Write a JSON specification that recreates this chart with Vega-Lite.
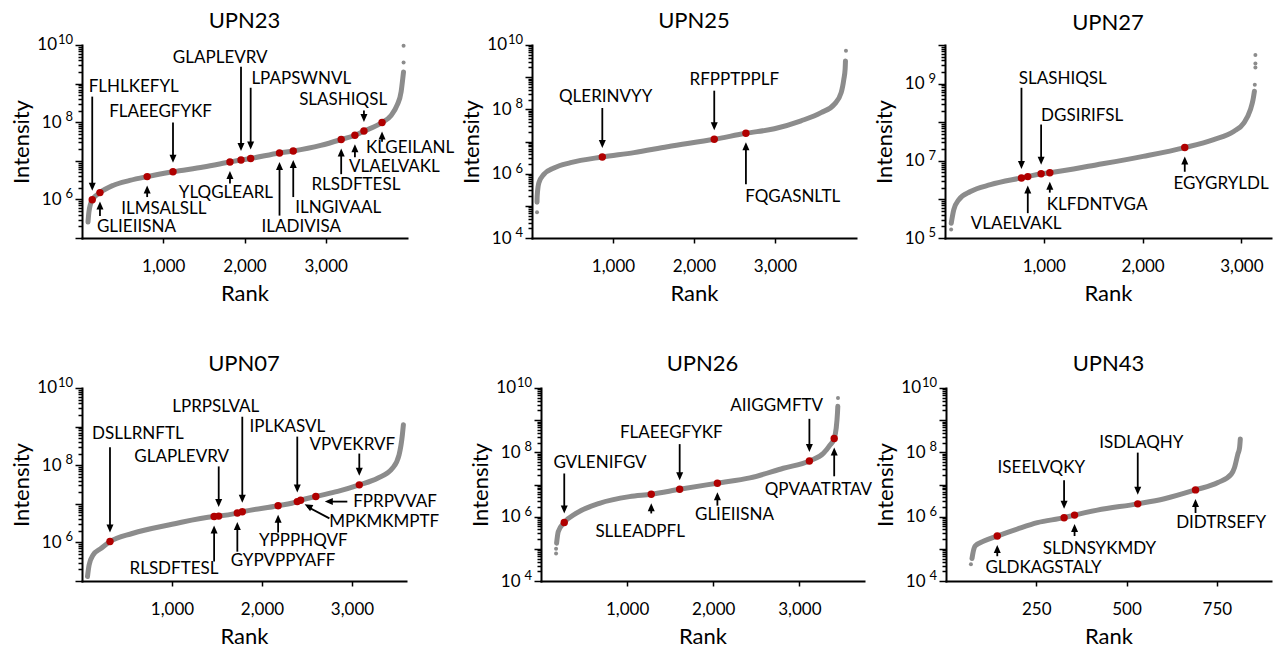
{
"$schema": "https://vega.github.io/schema/vega-lite/v6.json",
"autosize": {"type": "pad"},
"padding": {"left": 10, "top": 10, "right": 5, "bottom": 5},
"background": "white",
"datasets": {
"e_even": [{"rank":0,"intensity":1e6,"exp":"6"},{"rank":0,"intensity":1e8,"exp":"8"},{"rank":0,"intensity":1e10,"exp":"10"}],
"e_even4": [{"rank":0,"intensity":1e4,"exp":"4"},{"rank":0,"intensity":1e6,"exp":"6"},{"rank":0,"intensity":1e8,"exp":"8"},{"rank":0,"intensity":1e10,"exp":"10"}],
"e_odd": [{"rank":0,"intensity":1e5,"exp":"5"},{"rank":0,"intensity":1e7,"exp":"7"},{"rank":0,"intensity":1e9,"exp":"9"}],
"b10": [{"rank":0,"intensity":1e10,"base":"10"}],
"c1": [
{"rank":74,"intensity":2.6e5},{"rank":85,"intensity":4.7e5},{"rank":126,"intensity":9.8e5},{"rank":221,"intensity":1.5e6},{"rank":381,"intensity":2.3e6},{"rank":588,"intensity":3.1e6},{"rank":802,"intensity":3.9e6},{"rank":1120,"intensity":5.2e6},{"rank":1495,"intensity":6.9e6},{"rank":1821,"intensity":9.3e6},{"rank":1957,"intensity":1.05e7},{"rank":2076,"intensity":1.15e7},{"rank":2431,"intensity":1.6e7},{"rank":2600,"intensity":1.8e7},{"rank":2938,"intensity":2.5e7},{"rank":3190,"intensity":3.55e7},{"rank":3359,"intensity":4.6e7},{"rank":3470,"intensity":5.9e7},{"rank":3693,"intensity":9.8e7},{"rank":3804,"intensity":1.5e8},{"rank":3878,"intensity":2.75e8},{"rank":3928,"intensity":6.2e8},{"rank":3948,"intensity":1.35e9},{"rank":3957,"intensity":2.0e9},{"rank":3958,"intensity":3.5e9,"tail":1},{"rank":3958,"intensity":9.5e9,"tail":1}
],
"c2": [
{"rank":62,"intensity":6.3e4,"tail":1},{"rank":62,"intensity":1.3e5},{"rank":64,"intensity":2.0e5},{"rank":85,"intensity":5.2e5},{"rank":146,"intensity":9.5e5},{"rank":270,"intensity":1.5e6},{"rank":476,"intensity":2.2e6},{"rank":868,"intensity":3.3e6},{"rank":1260,"intensity":4.5e6},{"rank":1672,"intensity":6.9e6},{"rank":2250,"intensity":1.17e7},{"rank":2641,"intensity":1.8e7},{"rank":2992,"intensity":2.5e7},{"rank":3322,"intensity":4.4e7},{"rank":3569,"intensity":7.9e7},{"rank":3734,"intensity":1.45e8},{"rank":3817,"intensity":3.3e8},{"rank":3850,"intensity":8.7e8},{"rank":3866,"intensity":1.8e9},{"rank":3870,"intensity":3.2e9},{"rank":3876,"intensity":6.6e9,"tail":1}
],
"c3": [
{"rank":62,"intensity":1.66e5,"tail":1},{"rank":63,"intensity":2.4e5},{"rank":89,"intensity":5.4e5},{"rank":140,"intensity":9.8e5},{"rank":258,"intensity":1.6e6},{"rank":460,"intensity":2.4e6},{"rank":774,"intensity":3.6e6},{"rank":838,"intensity":3.9e6},{"rank":973,"intensity":4.6e6},{"rank":1061,"intensity":4.9e6},{"rank":1540,"intensity":7.9e6},{"rank":2005,"intensity":1.3e7},{"rank":2427,"intensity":2.2e7},{"rank":2720,"intensity":3.55e7},{"rank":2922,"intensity":5.75e7},{"rank":3024,"intensity":9.5e7},{"rank":3091,"intensity":2.1e8},{"rank":3118,"intensity":3.8e8},{"rank":3132,"intensity":6.3e8},{"rank":3136,"intensity":9.3e8,"tail":1},{"rank":3142,"intensity":2.6e9,"tail":1},{"rank":3142,"intensity":3.3e9,"tail":1},{"rank":3142,"intensity":5.5e9,"tail":1}
],
"c4": [
{"rank":61,"intensity":1.3e5},{"rank":79,"intensity":2.6e5},{"rank":123,"intensity":4.7e5},{"rank":208,"intensity":6.9e5},{"rank":311,"intensity":1.05e6},{"rank":558,"intensity":1.7e6},{"rank":1000,"intensity":2.95e6},{"rank":1468,"intensity":4.7e6},{"rank":1519,"intensity":4.8e6},{"rank":1726,"intensity":5.75e6},{"rank":1781,"intensity":6.2e6},{"rank":2179,"intensity":8.9e6},{"rank":2392,"intensity":1.14e7},{"rank":2429,"intensity":1.23e7},{"rank":2598,"intensity":1.55e7},{"rank":2841,"intensity":2.1e7},{"rank":3081,"intensity":3.1e7},{"rank":3284,"intensity":4.6e7},{"rank":3449,"intensity":8.3e7},{"rank":3523,"intensity":1.86e8},{"rank":3560,"intensity":6.2e8},{"rank":3571,"intensity":1.12e9}
],
"c5": [
{"rank":175,"intensity":7.2e4,"tail":1},{"rank":175,"intensity":1.0e5,"tail":1},{"rank":181,"intensity":1.5e5},{"rank":200,"intensity":3.4e5},{"rank":270,"intensity":6.6e5},{"rank":406,"intensity":1.26e6},{"rank":678,"intensity":2.6e6},{"rank":1027,"intensity":4.2e6},{"rank":1280,"intensity":5.0e6},{"rank":1610,"intensity":7.1e6},{"rank":2048,"intensity":1.1e7},{"rank":2425,"intensity":1.6e7},{"rank":2813,"intensity":3.2e7},{"rank":3116,"intensity":5.4e7},{"rank":3279,"intensity":9.3e7},{"rank":3357,"intensity":1.7e8},{"rank":3404,"intensity":2.7e8},{"rank":3427,"intensity":5.6e8},{"rank":3442,"intensity":1.66e9},{"rank":3446,"intensity":2.7e9},{"rank":3448,"intensity":4.9e9,"tail":1}
],
"c6": [
{"rank":69,"intensity":3.3e4,"tail":1},{"rank":72,"intensity":5.0e4},{"rank":74,"intensity":6.8e4},{"rank":81,"intensity":1.23e5},{"rank":105,"intensity":1.74e5},{"rank":142,"intensity":2.5e5},{"rank":197,"intensity":4.1e5},{"rank":253,"intensity":6.5e5},{"rank":327,"intensity":9.3e5},{"rank":356,"intensity":1.12e6},{"rank":419,"intensity":1.6e6},{"rank":531,"intensity":2.5e6},{"rank":605,"intensity":3.6e6},{"rank":691,"intensity":6.8e6},{"rank":753,"intensity":1.15e7},{"rank":790,"intensity":2.1e7},{"rank":799,"intensity":3.4e7},{"rank":808,"intensity":8.7e7},{"rank":813,"intensity":1.4e8},{"rank":815,"intensity":2.6e8}
],
"a1": [
{"label":"FLHLKEFYL","rank":126,"intensity":9.8e5,"dir":"down","ty":4.6e8,"lx":637,"ly":8.3e8},
{"label":"GLIEIISNA","rank":221,"intensity":1.5e6,"dir":"up","ty":3.7e5,"lx":670,"ly":1.9e5},
{"label":"ILMSALSLL","rank":802,"intensity":3.9e6,"dir":"up","ty":1.15e6,"lx":1008,"ly":5.6e5},
{"label":"FLAEEGFYKF","rank":1120,"intensity":5.2e6,"dir":"down","ty":9.8e7,"lx":967,"ly":1.86e8},
{"label":"YLQGLEARL","rank":1821,"intensity":9.3e6,"dir":"up","ty":2.6e6,"lx":1771,"ly":1.45e6},
{"label":"GLAPLEVRV","rank":1957,"intensity":1.05e7,"dir":"down","ty":2.75e9,"lx":1701,"ly":4.5e9},
{"label":"LPAPSWNVL","rank":2076,"intensity":1.15e7,"dir":"down","ty":7.8e8,"lx":2699,"ly":1.3e9},
{"label":"ILADIVISA","rank":2431,"intensity":1.6e7,"dir":"up","ty":3.8e5,"lx":2699,"ly":1.9e5},
{"label":"ILNGIVAAL","rank":2600,"intensity":1.8e7,"dir":"up","ty":1.15e6,"lx":3153,"ly":5.9e5},
{"label":"RLSDFTESL","rank":3190,"intensity":3.55e7,"dir":"up","ty":4.5e6,"lx":3371,"ly":2.3e6},
{"label":"VLAELVAKL","rank":3359,"intensity":4.6e7,"dir":"up","ty":1.23e7,"lx":3845,"ly":7.0e6},
{"label":"SLASHIQSL","rank":3470,"intensity":5.9e7,"dir":"down","ty":2.0e8,"lx":3214,"ly":3.8e8},
{"label":"KLGEILANL","rank":3693,"intensity":9.8e7,"dir":"up","ty":3.1e7,"lx":4038,"ly":2.1e7}
],
"a2": [
{"label":"QLERINVYY","rank":868,"intensity":3.3e6,"dir":"down","ty":1.1e8,"lx":909,"ly":2.45e8},
{"label":"RFPPTPPLF","rank":2250,"intensity":1.17e7,"dir":"down","ty":3.8e8,"lx":2497,"ly":8.1e8},
{"label":"FQGASNLTL","rank":2641,"intensity":1.8e7,"dir":"up","ty":4.7e5,"lx":3219,"ly":1.9e5}
],
"a3": [
{"label":"SLASHIQSL","rank":774,"intensity":3.6e6,"dir":"down","ty":7.8e8,"lx":1192,"ly":1.3e9},
{"label":"VLAELVAKL","rank":838,"intensity":3.9e6,"dir":"up","ty":4.4e5,"lx":720,"ly":2.3e5},
{"label":"DGSIRIFSL","rank":973,"intensity":4.6e6,"dir":"down","ty":8.7e7,"lx":1388,"ly":1.45e8},
{"label":"KLFDNTVGA","rank":1061,"intensity":4.9e6,"dir":"up","ty":1.5e6,"lx":1540,"ly":7.2e5},
{"label":"EGYGRYLDL","rank":2427,"intensity":2.2e7,"dir":"up","ty":5.2e6,"lx":2794,"ly":2.5e6}
],
"a4": [
{"label":"DSLLRNFTL","rank":311,"intensity":1.05e6,"dir":"down","ty":2.9e8,"lx":621,"ly":6.6e8},
{"label":"RLSDFTESL","rank":1468,"intensity":4.7e6,"dir":"up","ty":3.2e5,"lx":1022,"ly":2.0e5},
{"label":"GLAPLEVRV","rank":1519,"intensity":4.8e6,"dir":"down","ty":9.3e7,"lx":1107,"ly":1.6e8},
{"label":"GYPVPPYAFF","rank":1726,"intensity":5.75e6,"dir":"up","ty":5.75e5,"lx":2234,"ly":3.3e5},
{"label":"LPRPSLVAL","rank":1781,"intensity":6.2e6,"dir":"down","ty":1.8e9,"lx":1486,"ly":3.2e9},
{"label":"YPPPHQVF","rank":2179,"intensity":8.9e6,"dir":"up","ty":1.8e6,"lx":2458,"ly":1.07e6},
{"label":"IPLKASVL","rank":2392,"intensity":1.14e7,"dir":"down","ty":5.5e8,"lx":2282,"ly":9.5e8},
{"label":"MPKMKMPTF","rank":2429,"intensity":1.23e7,"dir":"upleft","tx":2749,"ty":4.2e6,"lx":3357,"ly":3.4e6},
{"label":"FPRPVVAF","rank":2598,"intensity":1.55e7,"dir":"left","tx":2948,"ty":1.14e7,"lx":3479,"ly":1.1e7},
{"label":"VPVEKRVF","rank":3081,"intensity":3.1e7,"dir":"down","ty":2.0e8,"lx":3003,"ly":3.3e8}
],
"a5": [
{"label":"GVLENIFGV","rank":270,"intensity":6.6e5,"dir":"down","ty":2.2e7,"lx":685,"ly":4.5e7},
{"label":"SLLEADPFL","rank":1280,"intensity":5.0e6,"dir":"up","ty":1.26e6,"lx":1151,"ly":3.4e5},
{"label":"FLAEEGFYKF","rank":1610,"intensity":7.1e6,"dir":"down","ty":1.8e8,"lx":1513,"ly":3.9e8},
{"label":"GLIEIISNA","rank":2048,"intensity":1.1e7,"dir":"up","ty":2.2e6,"lx":2246,"ly":1.1e6},
{"label":"AIIGGMFTV","rank":3116,"intensity":5.4e7,"dir":"down","ty":1.1e9,"lx":2736,"ly":2.8e9},
{"label":"QPVAATRTAV","rank":3404,"intensity":2.7e8,"dir":"up","ty":1.8e7,"lx":3221,"ly":6.9e6}
],
"a6": [
{"label":"GLDKAGSTALY","rank":142,"intensity":2.5e5,"dir":"up","ty":5.9e4,"lx":270,"ly":2.6e4},
{"label":"ISEELVQKY","rank":327,"intensity":9.3e5,"dir":"down","ty":1.35e7,"lx":264,"ly":3.2e7},
{"label":"SLDNSYKMDY","rank":356,"intensity":1.12e6,"dir":"up","ty":2.5e5,"lx":425,"ly":1.0e5},
{"label":"ISDLAQHY","rank":531,"intensity":2.5e6,"dir":"down","ty":9.8e7,"lx":541,"ly":2.0e8},
{"label":"DIDTRSEFY","rank":691,"intensity":6.8e6,"dir":"up","ty":1.3e6,"lx":762,"ly":6.5e5}
]
},
"vconcat": [
{
"hconcat": [
{
"title": {"text": "UPN23", "frame": "group"},
"width": 325, "height": 193,
"encoding": {
"x": {"field": "rank", "type": "quantitative", "title": "Rank", "scale": {"domain": [0, 4000], "nice": false, "zero": false}, "axis": {"values": [1000, 2000, 3000], "labelExpr": "format(datum.value, ',')"}},
"y": {"field": "intensity", "type": "quantitative", "title": "Intensity", "scale": {"type": "log", "domain": [1e5, 1e10], "nice": false}, "axis": {"values": [1e5,2e5,3e5,4e5,5e5,6e5,7e5,8e5,9e5,1e6,2e6,3e6,4e6,5e6,6e6,7e6,8e6,9e6,1e7,2e7,3e7,4e7,5e7,6e7,7e7,8e7,9e7,1e8,2e8,3e8,4e8,5e8,6e8,7e8,8e8,9e8,1e9,2e9,3e9,4e9,5e9,6e9,7e9,8e9,9e9,1e10], "labelExpr": "indexof([1e6,1e8], datum.value) >= 0 ? '10' : ''", "tickSize": {"condition": {"test": "indexof([1e4,1e5,1e6,1e7,1e8,1e9,1e10], datum.value) >= 0", "value": 7}, "value": 4}}}
},
"layer": [
{"data": {"name": "c1"}, "transform": [{"filter": "datum.tail != 1"}], "mark": {"type": "line", "color": "#8c8c8c", "strokeWidth": 5, "strokeCap": "round", "interpolate": "monotone"}},
{"data": {"name": "c1"}, "transform": [{"filter": "datum.tail == 1"}], "mark": {"type": "circle", "color": "#8c8c8c", "size": 16, "opacity": 1}},
{"data": {"name": "a1"}, "transform": [{"filter": "datum.dir == 'down'"}], "mark": {"type": "rule", "color": "black", "strokeWidth": 1.8, "y2Offset": -12}, "encoding": {"y": {"field": "ty", "type": "quantitative", "title": "Intensity"}, "y2": {"field": "intensity"}}},
{"data": {"name": "a1"}, "transform": [{"filter": "datum.dir == 'up'"}], "mark": {"type": "rule", "color": "black", "strokeWidth": 1.8, "y2Offset": 12}, "encoding": {"y": {"field": "ty", "type": "quantitative", "title": "Intensity"}, "y2": {"field": "intensity"}}},
{"data": {"name": "a1"}, "mark": {"type": "circle", "color": "#b00000", "size": 55, "opacity": 1}},
{"data": {"name": "a1"}, "transform": [{"filter": "datum.dir == 'down'"}], "mark": {"type": "point", "shape": "M0,0L-3.5,-8L3.5,-8Z", "size": 4, "filled": true, "color": "black", "opacity": 1, "strokeWidth": 0, "yOffset": -9}},
{"data": {"name": "a1"}, "transform": [{"filter": "datum.dir == 'up'"}], "mark": {"type": "point", "shape": "M0,0L-3.5,8L3.5,8Z", "size": 4, "filled": true, "color": "black", "opacity": 1, "strokeWidth": 0, "yOffset": 9}},
{"data": {"name": "a1"}, "mark": {"type": "text", "fontSize": 17, "baseline": "middle", "align": "center", "color": "black"}, "encoding": {"x": {"field": "lx", "type": "quantitative", "title": "Rank"}, "y": {"field": "ly", "type": "quantitative", "title": "Intensity"}, "text": {"field": "label"}}},
{"data": {"name": "e_even"}, "mark": {"type": "text", "fontSize": 13, "baseline": "middle", "align": "right", "dx": -9, "dy": -5, "color": "black"}, "encoding": {"text": {"field": "exp"}}},
{"data": {"name": "b10"}, "mark": {"type": "text", "fontSize": 17, "baseline": "middle", "align": "right", "dx": -25, "color": "black"}, "encoding": {"text": {"field": "base"}}}
]
},
{
"hconcat": [
{
"title": {"text": "UPN25", "frame": "group"},
"width": 324, "height": 193,
"encoding": {
"x": {"field": "rank", "type": "quantitative", "title": "Rank", "scale": {"domain": [0, 4000], "nice": false, "zero": false}, "axis": {"values": [1000, 2000, 3000], "labelExpr": "format(datum.value, ',')"}},
"y": {"field": "intensity", "type": "quantitative", "title": "Intensity", "scale": {"type": "log", "domain": [1e4, 1e10], "nice": false}, "axis": {"values": [1e4,2e4,3e4,4e4,5e4,6e4,7e4,8e4,9e4,1e5,2e5,3e5,4e5,5e5,6e5,7e5,8e5,9e5,1e6,2e6,3e6,4e6,5e6,6e6,7e6,8e6,9e6,1e7,2e7,3e7,4e7,5e7,6e7,7e7,8e7,9e7,1e8,2e8,3e8,4e8,5e8,6e8,7e8,8e8,9e8,1e9,2e9,3e9,4e9,5e9,6e9,7e9,8e9,9e9,1e10], "labelExpr": "indexof([1e4,1e6,1e8], datum.value) >= 0 ? '10' : ''", "tickSize": {"condition": {"test": "indexof([1e4,1e5,1e6,1e7,1e8,1e9,1e10], datum.value) >= 0", "value": 7}, "value": 4}}}
},
"layer": [
{"data": {"name": "c2"}, "transform": [{"filter": "datum.tail != 1"}], "mark": {"type": "line", "color": "#8c8c8c", "strokeWidth": 5, "strokeCap": "round", "interpolate": "monotone"}},
{"data": {"name": "c2"}, "transform": [{"filter": "datum.tail == 1"}], "mark": {"type": "circle", "color": "#8c8c8c", "size": 16, "opacity": 1}},
{"data": {"name": "a2"}, "transform": [{"filter": "datum.dir == 'down'"}], "mark": {"type": "rule", "color": "black", "strokeWidth": 1.8, "y2Offset": -12}, "encoding": {"y": {"field": "ty", "type": "quantitative", "title": "Intensity"}, "y2": {"field": "intensity"}}},
{"data": {"name": "a2"}, "transform": [{"filter": "datum.dir == 'up'"}], "mark": {"type": "rule", "color": "black", "strokeWidth": 1.8, "y2Offset": 12}, "encoding": {"y": {"field": "ty", "type": "quantitative", "title": "Intensity"}, "y2": {"field": "intensity"}}},
{"data": {"name": "a2"}, "mark": {"type": "circle", "color": "#b00000", "size": 55, "opacity": 1}},
{"data": {"name": "a2"}, "transform": [{"filter": "datum.dir == 'down'"}], "mark": {"type": "point", "shape": "M0,0L-3.5,-8L3.5,-8Z", "size": 4, "filled": true, "color": "black", "opacity": 1, "strokeWidth": 0, "yOffset": -9}},
{"data": {"name": "a2"}, "transform": [{"filter": "datum.dir == 'up'"}], "mark": {"type": "point", "shape": "M0,0L-3.5,8L3.5,8Z", "size": 4, "filled": true, "color": "black", "opacity": 1, "strokeWidth": 0, "yOffset": 9}},
{"data": {"name": "a2"}, "mark": {"type": "text", "fontSize": 17, "baseline": "middle", "align": "center", "color": "black"}, "encoding": {"x": {"field": "lx", "type": "quantitative", "title": "Rank"}, "y": {"field": "ly", "type": "quantitative", "title": "Intensity"}, "text": {"field": "label"}}},
{"data": {"name": "e_even4"}, "mark": {"type": "text", "fontSize": 13, "baseline": "middle", "align": "right", "dx": -9, "dy": -5, "color": "black"}, "encoding": {"text": {"field": "exp"}}},
{"data": {"name": "b10"}, "mark": {"type": "text", "fontSize": 17, "baseline": "middle", "align": "right", "dx": -25, "color": "black"}, "encoding": {"text": {"field": "base"}}}
]
},
{
"title": {"text": "UPN27", "frame": "group"},
"width": 326, "height": 193,
"encoding": {
"x": {"field": "rank", "type": "quantitative", "title": "Rank", "scale": {"domain": [0, 3300], "nice": false, "zero": false}, "axis": {"values": [1000, 2000, 3000], "labelExpr": "format(datum.value, ',')"}},
"y": {"field": "intensity", "type": "quantitative", "title": "Intensity", "scale": {"type": "log", "domain": [1e5, 1e10], "nice": false}, "axis": {"values": [1e5,2e5,3e5,4e5,5e5,6e5,7e5,8e5,9e5,1e6,2e6,3e6,4e6,5e6,6e6,7e6,8e6,9e6,1e7,2e7,3e7,4e7,5e7,6e7,7e7,8e7,9e7,1e8,2e8,3e8,4e8,5e8,6e8,7e8,8e8,9e8,1e9,2e9,3e9,4e9,5e9,6e9,7e9,8e9,9e9,1e10], "labelExpr": "indexof([1e5,1e7,1e9], datum.value) >= 0 ? '10' : ''", "tickSize": {"condition": {"test": "indexof([1e4,1e5,1e6,1e7,1e8,1e9,1e10], datum.value) >= 0", "value": 7}, "value": 4}}}
},
"layer": [
{"data": {"name": "c3"}, "transform": [{"filter": "datum.tail != 1"}], "mark": {"type": "line", "color": "#8c8c8c", "strokeWidth": 5, "strokeCap": "round", "interpolate": "monotone"}},
{"data": {"name": "c3"}, "transform": [{"filter": "datum.tail == 1"}], "mark": {"type": "circle", "color": "#8c8c8c", "size": 16, "opacity": 1}},
{"data": {"name": "a3"}, "transform": [{"filter": "datum.dir == 'down'"}], "mark": {"type": "rule", "color": "black", "strokeWidth": 1.8, "y2Offset": -12}, "encoding": {"y": {"field": "ty", "type": "quantitative", "title": "Intensity"}, "y2": {"field": "intensity"}}},
{"data": {"name": "a3"}, "transform": [{"filter": "datum.dir == 'up'"}], "mark": {"type": "rule", "color": "black", "strokeWidth": 1.8, "y2Offset": 12}, "encoding": {"y": {"field": "ty", "type": "quantitative", "title": "Intensity"}, "y2": {"field": "intensity"}}},
{"data": {"name": "a3"}, "mark": {"type": "circle", "color": "#b00000", "size": 55, "opacity": 1}},
{"data": {"name": "a3"}, "transform": [{"filter": "datum.dir == 'down'"}], "mark": {"type": "point", "shape": "M0,0L-3.5,-8L3.5,-8Z", "size": 4, "filled": true, "color": "black", "opacity": 1, "strokeWidth": 0, "yOffset": -9}},
{"data": {"name": "a3"}, "transform": [{"filter": "datum.dir == 'up'"}], "mark": {"type": "point", "shape": "M0,0L-3.5,8L3.5,8Z", "size": 4, "filled": true, "color": "black", "opacity": 1, "strokeWidth": 0, "yOffset": 9}},
{"data": {"name": "a3"}, "mark": {"type": "text", "fontSize": 17, "baseline": "middle", "align": "center", "color": "black"}, "encoding": {"x": {"field": "lx", "type": "quantitative", "title": "Rank"}, "y": {"field": "ly", "type": "quantitative", "title": "Intensity"}, "text": {"field": "label"}}},
{"data": {"name": "e_odd"}, "mark": {"type": "text", "fontSize": 13, "baseline": "middle", "align": "right", "dx": -9, "dy": -5, "color": "black"}, "encoding": {"text": {"field": "exp"}}}
]
}
],
"spacing": 89, "bounds": "flush"
}
],
"spacing": 125, "bounds": "flush"
},
{
"hconcat": [
{
"title": {"text": "UPN07", "frame": "group"},
"width": 324, "height": 193,
"encoding": {
"x": {"field": "rank", "type": "quantitative", "title": "Rank", "scale": {"domain": [0, 3600], "nice": false, "zero": false}, "axis": {"values": [1000, 2000, 3000], "labelExpr": "format(datum.value, ',')"}},
"y": {"field": "intensity", "type": "quantitative", "title": "Intensity", "scale": {"type": "log", "domain": [1e5, 1e10], "nice": false}, "axis": {"values": [1e5,2e5,3e5,4e5,5e5,6e5,7e5,8e5,9e5,1e6,2e6,3e6,4e6,5e6,6e6,7e6,8e6,9e6,1e7,2e7,3e7,4e7,5e7,6e7,7e7,8e7,9e7,1e8,2e8,3e8,4e8,5e8,6e8,7e8,8e8,9e8,1e9,2e9,3e9,4e9,5e9,6e9,7e9,8e9,9e9,1e10], "labelExpr": "indexof([1e6,1e8], datum.value) >= 0 ? '10' : ''", "tickSize": {"condition": {"test": "indexof([1e4,1e5,1e6,1e7,1e8,1e9,1e10], datum.value) >= 0", "value": 7}, "value": 4}}}
},
"layer": [
{"data": {"name": "c4"}, "transform": [{"filter": "datum.tail != 1"}], "mark": {"type": "line", "color": "#8c8c8c", "strokeWidth": 5, "strokeCap": "round", "interpolate": "monotone"}},
{"data": {"name": "a4"}, "transform": [{"filter": "datum.dir == 'down'"}], "mark": {"type": "rule", "color": "black", "strokeWidth": 1.8, "y2Offset": -12}, "encoding": {"y": {"field": "ty", "type": "quantitative", "title": "Intensity"}, "y2": {"field": "intensity"}}},
{"data": {"name": "a4"}, "transform": [{"filter": "datum.dir == 'up'"}], "mark": {"type": "rule", "color": "black", "strokeWidth": 1.8, "y2Offset": 12}, "encoding": {"y": {"field": "ty", "type": "quantitative", "title": "Intensity"}, "y2": {"field": "intensity"}}},
{"data": {"name": "a4"}, "transform": [{"filter": "datum.dir == 'left'"}], "mark": {"type": "rule", "color": "black", "strokeWidth": 1.8, "x2Offset": 12}, "encoding": {"x": {"field": "tx", "type": "quantitative", "title": "Rank"}, "x2": {"field": "rank"}, "y": {"field": "ty", "type": "quantitative", "title": "Intensity"}, "y2": {"field": "ty"}}},
{"data": {"name": "a4"}, "transform": [{"filter": "datum.dir == 'upleft'"}], "mark": {"type": "rule", "color": "black", "strokeWidth": 1.8, "x2Offset": 7, "y2Offset": 6.5}, "encoding": {"x": {"field": "tx", "type": "quantitative", "title": "Rank"}, "x2": {"field": "rank"}, "y": {"field": "ty", "type": "quantitative", "title": "Intensity"}, "y2": {"field": "intensity"}}},
{"data": {"name": "a4"}, "mark": {"type": "circle", "color": "#b00000", "size": 55, "opacity": 1}},
{"data": {"name": "a4"}, "transform": [{"filter": "datum.dir == 'down'"}], "mark": {"type": "point", "shape": "M0,0L-3.5,-8L3.5,-8Z", "size": 4, "filled": true, "color": "black", "opacity": 1, "strokeWidth": 0, "yOffset": -9}},
{"data": {"name": "a4"}, "transform": [{"filter": "datum.dir == 'up'"}], "mark": {"type": "point", "shape": "M0,0L-3.5,8L3.5,8Z", "size": 4, "filled": true, "color": "black", "opacity": 1, "strokeWidth": 0, "yOffset": 9}},
{"data": {"name": "a4"}, "transform": [{"filter": "datum.dir == 'left'"}], "mark": {"type": "point", "shape": "M0,0L8,-3.5L8,3.5Z", "size": 4, "filled": true, "color": "black", "opacity": 1, "strokeWidth": 0, "xOffset": 9}, "encoding": {"y": {"field": "ty", "type": "quantitative", "title": "Intensity"}}},
{"data": {"name": "a4"}, "transform": [{"filter": "datum.dir == 'upleft'"}], "mark": {"type": "point", "shape": "M0,0L8.7,0.6L5.5,6.8Z", "size": 4, "filled": true, "color": "black", "opacity": 1, "strokeWidth": 0, "xOffset": 4, "yOffset": 4}},
{"data": {"name": "a4"}, "mark": {"type": "text", "fontSize": 17, "baseline": "middle", "align": "center", "color": "black"}, "encoding": {"x": {"field": "lx", "type": "quantitative", "title": "Rank"}, "y": {"field": "ly", "type": "quantitative", "title": "Intensity"}, "text": {"field": "label"}}},
{"data": {"name": "e_even"}, "mark": {"type": "text", "fontSize": 13, "baseline": "middle", "align": "right", "dx": -9, "dy": -5, "color": "black"}, "encoding": {"text": {"field": "exp"}}},
{"data": {"name": "b10"}, "mark": {"type": "text", "fontSize": 17, "baseline": "middle", "align": "right", "dx": -25, "color": "black"}, "encoding": {"text": {"field": "base"}}}
]
},
{
"hconcat": [
{
"title": {"text": "UPN26", "frame": "group"},
"width": 323, "height": 193,
"encoding": {
"x": {"field": "rank", "type": "quantitative", "title": "Rank", "scale": {"domain": [0, 3750], "nice": false, "zero": false}, "axis": {"values": [1000, 2000, 3000], "labelExpr": "format(datum.value, ',')"}},
"y": {"field": "intensity", "type": "quantitative", "title": "Intensity", "scale": {"type": "log", "domain": [1e4, 1e10], "nice": false}, "axis": {"values": [1e4,2e4,3e4,4e4,5e4,6e4,7e4,8e4,9e4,1e5,2e5,3e5,4e5,5e5,6e5,7e5,8e5,9e5,1e6,2e6,3e6,4e6,5e6,6e6,7e6,8e6,9e6,1e7,2e7,3e7,4e7,5e7,6e7,7e7,8e7,9e7,1e8,2e8,3e8,4e8,5e8,6e8,7e8,8e8,9e8,1e9,2e9,3e9,4e9,5e9,6e9,7e9,8e9,9e9,1e10], "labelExpr": "indexof([1e4,1e6,1e8], datum.value) >= 0 ? '10' : ''", "tickSize": {"condition": {"test": "indexof([1e4,1e5,1e6,1e7,1e8,1e9,1e10], datum.value) >= 0", "value": 7}, "value": 4}}}
},
"layer": [
{"data": {"name": "c5"}, "transform": [{"filter": "datum.tail != 1"}], "mark": {"type": "line", "color": "#8c8c8c", "strokeWidth": 5, "strokeCap": "round", "interpolate": "monotone"}},
{"data": {"name": "c5"}, "transform": [{"filter": "datum.tail == 1"}], "mark": {"type": "circle", "color": "#8c8c8c", "size": 16, "opacity": 1}},
{"data": {"name": "a5"}, "transform": [{"filter": "datum.dir == 'down'"}], "mark": {"type": "rule", "color": "black", "strokeWidth": 1.8, "y2Offset": -12}, "encoding": {"y": {"field": "ty", "type": "quantitative", "title": "Intensity"}, "y2": {"field": "intensity"}}},
{"data": {"name": "a5"}, "transform": [{"filter": "datum.dir == 'up'"}], "mark": {"type": "rule", "color": "black", "strokeWidth": 1.8, "y2Offset": 12}, "encoding": {"y": {"field": "ty", "type": "quantitative", "title": "Intensity"}, "y2": {"field": "intensity"}}},
{"data": {"name": "a5"}, "mark": {"type": "circle", "color": "#b00000", "size": 55, "opacity": 1}},
{"data": {"name": "a5"}, "transform": [{"filter": "datum.dir == 'down'"}], "mark": {"type": "point", "shape": "M0,0L-3.5,-8L3.5,-8Z", "size": 4, "filled": true, "color": "black", "opacity": 1, "strokeWidth": 0, "yOffset": -9}},
{"data": {"name": "a5"}, "transform": [{"filter": "datum.dir == 'up'"}], "mark": {"type": "point", "shape": "M0,0L-3.5,8L3.5,8Z", "size": 4, "filled": true, "color": "black", "opacity": 1, "strokeWidth": 0, "yOffset": 9}},
{"data": {"name": "a5"}, "mark": {"type": "text", "fontSize": 17, "baseline": "middle", "align": "center", "color": "black"}, "encoding": {"x": {"field": "lx", "type": "quantitative", "title": "Rank"}, "y": {"field": "ly", "type": "quantitative", "title": "Intensity"}, "text": {"field": "label"}}},
{"data": {"name": "e_even4"}, "mark": {"type": "text", "fontSize": 13, "baseline": "middle", "align": "right", "dx": -9, "dy": -5, "color": "black"}, "encoding": {"text": {"field": "exp"}}},
{"data": {"name": "b10"}, "mark": {"type": "text", "fontSize": 17, "baseline": "middle", "align": "right", "dx": -25, "color": "black"}, "encoding": {"text": {"field": "base"}}}
]
},
{
"title": {"text": "UPN43", "frame": "group"},
"width": 325, "height": 193,
"encoding": {
"x": {"field": "rank", "type": "quantitative", "title": "Rank", "scale": {"domain": [0, 900], "nice": false, "zero": false}, "axis": {"values": [250, 500, 750], "labelExpr": "format(datum.value, ',')"}},
"y": {"field": "intensity", "type": "quantitative", "title": "Intensity", "scale": {"type": "log", "domain": [1e4, 1e10], "nice": false}, "axis": {"values": [1e4,2e4,3e4,4e4,5e4,6e4,7e4,8e4,9e4,1e5,2e5,3e5,4e5,5e5,6e5,7e5,8e5,9e5,1e6,2e6,3e6,4e6,5e6,6e6,7e6,8e6,9e6,1e7,2e7,3e7,4e7,5e7,6e7,7e7,8e7,9e7,1e8,2e8,3e8,4e8,5e8,6e8,7e8,8e8,9e8,1e9,2e9,3e9,4e9,5e9,6e9,7e9,8e9,9e9,1e10], "labelExpr": "indexof([1e4,1e6,1e8], datum.value) >= 0 ? '10' : ''", "tickSize": {"condition": {"test": "indexof([1e4,1e5,1e6,1e7,1e8,1e9,1e10], datum.value) >= 0", "value": 7}, "value": 4}}}
},
"layer": [
{"data": {"name": "c6"}, "transform": [{"filter": "datum.tail != 1"}], "mark": {"type": "line", "color": "#8c8c8c", "strokeWidth": 5, "strokeCap": "round", "interpolate": "monotone"}},
{"data": {"name": "c6"}, "transform": [{"filter": "datum.tail == 1"}], "mark": {"type": "circle", "color": "#8c8c8c", "size": 16, "opacity": 1}},
{"data": {"name": "a6"}, "transform": [{"filter": "datum.dir == 'down'"}], "mark": {"type": "rule", "color": "black", "strokeWidth": 1.8, "y2Offset": -12}, "encoding": {"y": {"field": "ty", "type": "quantitative", "title": "Intensity"}, "y2": {"field": "intensity"}}},
{"data": {"name": "a6"}, "transform": [{"filter": "datum.dir == 'up'"}], "mark": {"type": "rule", "color": "black", "strokeWidth": 1.8, "y2Offset": 12}, "encoding": {"y": {"field": "ty", "type": "quantitative", "title": "Intensity"}, "y2": {"field": "intensity"}}},
{"data": {"name": "a6"}, "mark": {"type": "circle", "color": "#b00000", "size": 55, "opacity": 1}},
{"data": {"name": "a6"}, "transform": [{"filter": "datum.dir == 'down'"}], "mark": {"type": "point", "shape": "M0,0L-3.5,-8L3.5,-8Z", "size": 4, "filled": true, "color": "black", "opacity": 1, "strokeWidth": 0, "yOffset": -9}},
{"data": {"name": "a6"}, "transform": [{"filter": "datum.dir == 'up'"}], "mark": {"type": "point", "shape": "M0,0L-3.5,8L3.5,8Z", "size": 4, "filled": true, "color": "black", "opacity": 1, "strokeWidth": 0, "yOffset": 9}},
{"data": {"name": "a6"}, "mark": {"type": "text", "fontSize": 17, "baseline": "middle", "align": "center", "color": "black"}, "encoding": {"x": {"field": "lx", "type": "quantitative", "title": "Rank"}, "y": {"field": "ly", "type": "quantitative", "title": "Intensity"}, "text": {"field": "label"}}},
{"data": {"name": "e_even4"}, "mark": {"type": "text", "fontSize": 13, "baseline": "middle", "align": "right", "dx": -9, "dy": -5, "color": "black"}, "encoding": {"text": {"field": "exp"}}},
{"data": {"name": "b10"}, "mark": {"type": "text", "fontSize": 17, "baseline": "middle", "align": "right", "dx": -25, "color": "black"}, "encoding": {"text": {"field": "base"}}}
]
}
],
"spacing": 82, "bounds": "flush"
}
],
"spacing": 135, "bounds": "flush"
}
],
"spacing": 343,
"bounds": "flush",
"config": {
"font": "Lato",
"view": {"stroke": null},
"axis": {"domainColor": "black", "domainWidth": 2, "domainCap": "square", "tickColor": "black", "tickWidth": 1.5, "labelFont": "Lato", "labelFontSize": 17, "labelColor": "black", "titleFont": "Lato", "titleFontSize": 22, "titleFontWeight": "normal", "titleColor": "black", "grid": false, "labelOverlap": false, "labelFlush": false, "labelBound": false},
"axisX": {"tickSize": 5, "labelPadding": 15, "titlePadding": 9},
"axisY": {"labelPadding": 14, "titlePadding": 8},
"title": {"font": "Lato", "fontSize": 22, "fontWeight": "normal", "color": "black", "offset": 1, "anchor": "middle"}
}
}
